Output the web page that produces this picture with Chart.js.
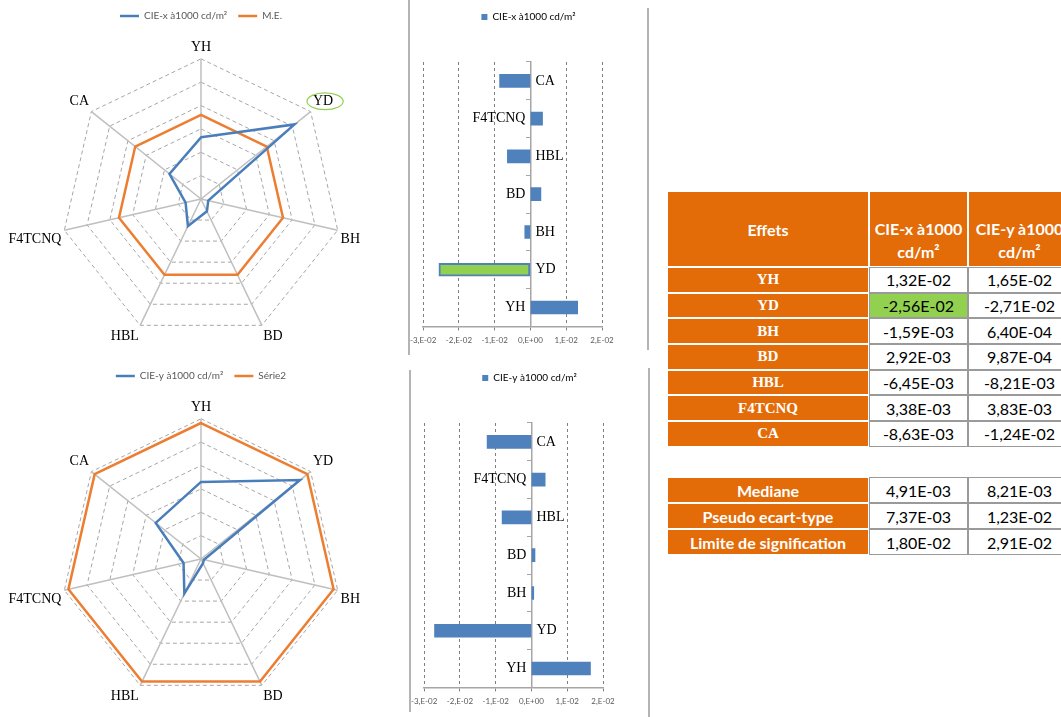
<!DOCTYPE html>
<html>
<head>
<meta charset="utf-8">
<script src="https://cdn.jsdelivr.net/npm/chart.js@4.4.1/dist/chart.umd.min.js"></script>
<style>
    body { margin: 0; width: 1061px; height: 717px; overflow: hidden; background: #fff; position: relative; }
    .box { position: absolute; }
    .sep { position: absolute; width: 2px; background: #b4b4b4; }
    table { position: absolute; border-collapse: separate; border-spacing: 0; table-layout: fixed; width: 404px; }
    td { padding: 0; text-align: center; vertical-align: middle; overflow: hidden; white-space: nowrap; }
    td.lab { background: #e36c09; color: #fff; border: 1px solid #fff; }
    td.val { background: #fff; color: #000; border: 1px solid #9a9a9a; font-family: Lato, sans-serif; font-size: 16px; }
    td.sig { background: #92d050; }
    .hd { font-family: Lato, sans-serif; font-weight: bold; font-size: 16px; }
    .eff { font-family: "Liberation Serif", serif; font-weight: bold; font-size: 15px; }
</style>
</head>
<body>
<div class="box" style="left:-7px; top:0; width:410px; height:352px;"><canvas id="radarX"></canvas></div>
<div class="box" style="left:405px; top:0; width:245px; height:355px;"><canvas id="barX"></canvas></div>
<div class="box" style="left:-7px; top:360px; width:410px; height:352px;"><canvas id="radarY"></canvas></div>
<div class="box" style="left:406px; top:361px; width:245px; height:355px;"><canvas id="barY"></canvas></div>

<div class="sep" style="left:408px; top:0; height:355px;"></div>
<div class="sep" style="left:647px; top:8px; height:342px;"></div>
<div class="sep" style="left:409px; top:370px; height:342px;"></div>
<div class="sep" style="left:648px; top:368px; height:349px;"></div>

<table id="tabEffets" style="left:667px; top:191px;"></table>
<table id="tabStats" style="left:667px; top:477px;"></table>

<script>
// ---- data ----
const effets = ['YH', 'YD', 'BH', 'BD', 'HBL', 'F4TCNQ', 'CA'];
const cieX = [1.32e-2, -2.56e-2, -1.59e-3, 2.92e-3, -6.45e-3, 3.38e-3, -8.63e-3];
const cieY = [1.65e-2, -2.71e-2, 6.40e-4, 9.87e-4, -8.21e-3, 3.83e-3, -1.24e-2];

const statLabels = ['Mediane', 'Pseudo ecart-type', 'Limite de signification'];
const statX = [4.91e-3, 7.37e-3, 1.80e-2];
const statY = [8.21e-3, 1.23e-2, 2.91e-2];

const headers = ['Effets', 'CIE-x à1000<br>cd/m²', 'CIE-y à1000<br>cd/m²'];
const labelX = 'CIE-x à1000 cd/m²';
const labelY = 'CIE-y à1000 cd/m²';
const refNames = ['M.E.', 'Série2'];

const barTickLabels = ['-3,E-02', '-2,E-02', '-1,E-02', '0,E+00', '1,E-02', '2,E-02'];

const BLUE = '#4f81bd';
const LINE_BLUE = '#4a7ebb';
const ORANGE = '#ed7d31';
const GREEN = '#92d050';

// limit of significance is the last stat row
const limX = statX[2];
const limY = statY[2];

// Format like excel french: 1,32E-02
function sci(v) {
    const parts = v.toExponential(2).split('e');
    const n = parseInt(parts[1]);
    return parts[0].replace('.', ',') + 'E' + (n < 0 ? '-' : '+') + String(Math.abs(n)).padStart(2, '0');
}

// extra room under the legend, and a sideways nudge of the legend
const legendGap = {
    id: 'legendGap',
    beforeInit(chart, args, opts) {
        const fit = chart.legend.fit;
        chart.legend.fit = function () {
            fit.call(this);
            this.height += opts.extra || 0;
        };
    },
    afterLayout(chart, args, opts) {
        if (opts.shift) {
            chart.legend.left += opts.shift;
            chart.legend.right += opts.shift;
        }
    }
};

// category names written next to the zero axis, opposite the bar
const axisNames = {
    id: 'axisNames',
    afterDatasetsDraw(chart) {
        const ctx = chart.ctx;
        const x = chart.scales.x;
        const y = chart.scales.y;
        const x0 = x.getPixelForValue(0);
        const vals = chart.data.datasets[0].data;
        ctx.save();
        ctx.font = '14px "Liberation Serif"';
        ctx.fillStyle = '#000';
        ctx.textBaseline = 'middle';
        chart.data.labels.forEach(function (lab, i) {
            const yy = y.getPixelForValue(i);
            if (vals[i] >= 0) {
                ctx.textAlign = 'right';
                ctx.fillText(lab, x0 - 5, yy);
            } else {
                ctx.textAlign = 'left';
                ctx.fillText(lab, x0 + 5, yy);
            }
        });
        ctx.restore();
    }
};

// green ring round the significant point labels
const sigRing = {
    id: 'sigRing',
    afterDraw(chart, args, opts) {
        const r = chart.scales.r;
        const ctx = chart.ctx;
        (opts.indexes || []).forEach(function (i) {
            const p = r.getPointLabelPosition(i);
            const cx = (p.left + p.right) / 2 + 2;
            const cy = (p.top + p.bottom) / 2;
            ctx.save();
            ctx.strokeStyle = GREEN;
            ctx.lineWidth = 1.2;
            ctx.beginPath();
            ctx.ellipse(cx, cy, (p.right - p.left) / 2 + 8, (p.bottom - p.top) / 2, 0, 0, Math.PI * 2);
            ctx.stroke();
            ctx.restore();
        });
    }
};

function significant(values, limit) {
    const out = [];
    values.forEach(function (v, i) { if (Math.abs(v) > limit) out.push(i); });
    return out;
}

function makeRadar(id, values, label, refName, limit) {
    new Chart(document.getElementById(id), {
        type: 'radar',
        data: {
            labels: effets,
            datasets: [
                {
                    label: label,
                    data: values.map(Math.abs),
                    borderColor: LINE_BLUE,
                    backgroundColor: LINE_BLUE,
                    borderWidth: 2.5,
                    fill: false,
                    pointRadius: 0,
                    tension: 0
                },
                {
                    label: refName,
                    data: effets.map(function () { return limit; }),
                    borderColor: ORANGE,
                    backgroundColor: ORANGE,
                    borderWidth: 2.5,
                    fill: false,
                    pointRadius: 0,
                    tension: 0
                }
            ]
        },
        options: {
            responsive: true,
            maintainAspectRatio: false,
            animation: false,
            layout: { padding: 0 },
            plugins: {
                legend: {
                    position: 'top',
                    labels: {
                        usePointStyle: true,
                        pointStyle: 'line',
                        pointStyleWidth: 19,
                        padding: 11,
                        color: '#595959',
                        font: { family: 'Lato', size: 10 }
                    }
                },
                legendGap: { extra: 0, shift: 3 },
                tooltip: { enabled: false },
                sigRing: { indexes: significant(values, limit) }
            },
            scales: {
                r: {
                    min: 0,
                    max: 0.03,
                    ticks: { stepSize: 0.005, display: false },
                    grid: { color: '#a6a6a6', lineWidth: 1 },
                    border: { dash: [4, 3] },
                    angleLines: { color: '#bfbfbf', lineWidth: 1.5 },
                    pointLabels: {
                        padding: 3,
                        color: '#000',
                        font: { family: 'Liberation Serif', size: 14 }
                    }
                }
            }
        },
        plugins: [legendGap, sigRing]
    });
}

function makeBar(id, values, label, limit) {
    const sig = significant(values, limit);
    new Chart(document.getElementById(id), {
        type: 'bar',
        data: {
            labels: effets,
            datasets: [{
                label: label,
                data: values,
                backgroundColor: values.map(function (v, i) { return sig.indexOf(i) >= 0 ? GREEN : BLUE; }),
                borderColor: BLUE,
                borderWidth: values.map(function (v, i) { return sig.indexOf(i) >= 0 ? 2 : 0; }),
                borderSkipped: false,
                barThickness: 13
            }]
        },
        options: {
            indexAxis: 'y',
            responsive: true,
            maintainAspectRatio: false,
            animation: false,
            layout: { padding: { left: 14, right: 48, top: 0, bottom: 5 } },
            plugins: {
                legend: {
                    position: 'top',
                    labels: {
                        boxWidth: 6,
                        boxHeight: 6,
                        padding: 12,
                        color: '#595959',
                        font: { family: 'Lato', size: 10 },
                        generateLabels: function (chart) {
                            return [{ text: label, fillStyle: BLUE, strokeStyle: BLUE, lineWidth: 0, datasetIndex: 0 }];
                        }
                    }
                },
                legendGap: { extra: 30, shift: 18 },
                tooltip: { enabled: false }
            },
            scales: {
                x: {
                    min: -0.03,
                    max: 0.02,
                    ticks: {
                        stepSize: 0.01,
                        autoSkip: false,
                        maxRotation: 0,
                        padding: 5,
                        color: '#595959',
                        font: { family: 'Lato', size: 8 },
                        callback: function (v, i) { return barTickLabels[i]; }
                    },
                    grid: { color: '#7f7f7f', lineWidth: 1, tickLength: 4 },
                    border: { color: '#a6a6a6', width: 1.5, dash: [3, 3] }
                },
                y: {
                    position: { x: 0 },
                    reverse: true,
                    ticks: { display: false },
                    grid: { drawOnChartArea: false, offset: true, tickLength: 4, color: '#a6a6a6' },
                    border: { color: '#a6a6a6', width: 1.5 }
                }
            }
        },
        plugins: [legendGap, axisNames]
    });
}

makeRadar('radarX', cieX, labelX, refNames[0], limX);
makeRadar('radarY', cieY, labelY, refNames[1], limY);
makeBar('barX', cieX, labelX, limX);
makeBar('barY', cieY, labelY, limY);

// ---- tables ----
const colgroup = '<colgroup><col style="width:202px"><col style="width:99px"><col style="width:103px"></colgroup>';

function buildEffects() {
    const t = document.getElementById('tabEffets');
    const sigX = significant(cieX, limX);
    const sigY = significant(cieY, limY);
    let html = colgroup;
    html += '<tr style="height:76px">';
    html += '<td class="lab hd">' + headers[0] + '</td>';
    html += '<td class="lab hd" style="vertical-align:bottom; padding-bottom:3px; line-height:23px;">' + headers[1] + '</td>';
    html += '<td class="lab hd" style="vertical-align:bottom; padding-bottom:3px; line-height:23px;">' + headers[2] + '</td>';
    html += '</tr>';
    effets.forEach(function (e, i) {
        html += '<tr style="height:25.7px">';
        html += '<td class="lab eff">' + e + '</td>';
        html += '<td class="val' + (sigX.indexOf(i) >= 0 ? ' sig' : '') + '">' + sci(cieX[i]) + '</td>';
        html += '<td class="val' + (sigY.indexOf(i) >= 0 ? ' sig' : '') + '">' + sci(cieY[i]) + '</td>';
        html += '</tr>';
    });
    t.innerHTML = html;
}

function buildStats() {
    const t = document.getElementById('tabStats');
    let html = colgroup;
    statLabels.forEach(function (s, i) {
        html += '<tr style="height:26px">';
        html += '<td class="lab hd">' + s + '</td>';
        html += '<td class="val">' + sci(statX[i]) + '</td>';
        html += '<td class="val">' + sci(statY[i]) + '</td>';
        html += '</tr>';
    });
    t.innerHTML = html;
}

buildEffects();
buildStats();
</script>
</body>
</html>
